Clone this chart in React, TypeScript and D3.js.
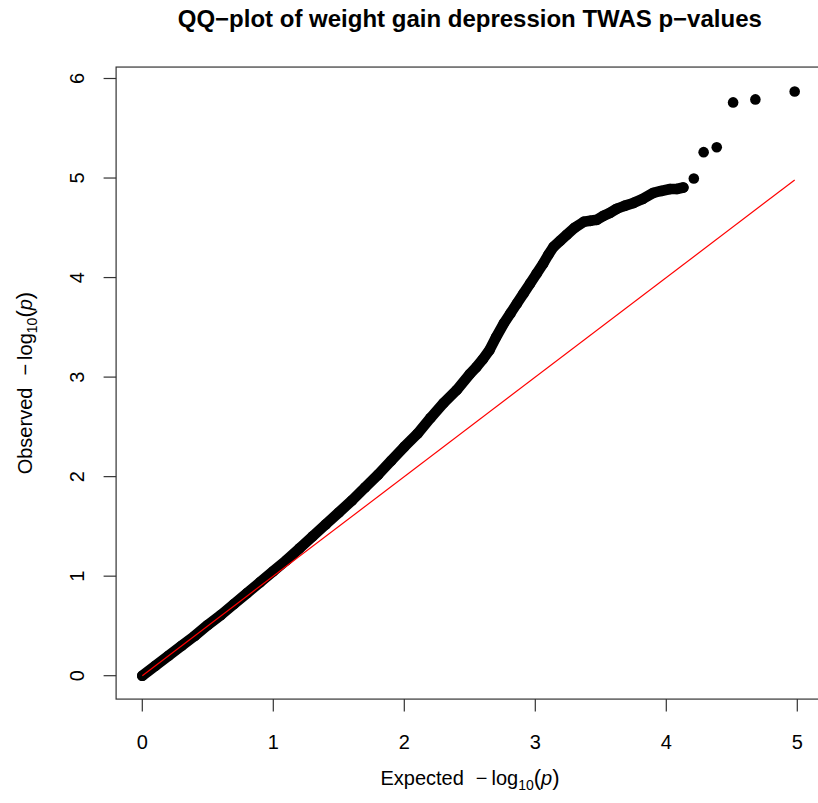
import React from "react";
import * as d3 from "d3";

// Dense part of the QQ curve (expected, observed -log10 p)
const bandExpected = [0.0, 0.1, 0.2, 0.3, 0.4, 0.5, 0.6, 0.7, 0.8, 0.9, 1.0, 1.1, 1.2, 1.3, 1.4, 1.5, 1.6, 1.7, 1.8, 1.9, 2.0, 2.1, 2.2, 2.3, 2.4, 2.5, 2.55, 2.6, 2.65, 2.7, 2.76, 2.81, 2.86, 2.91, 2.96, 3.01, 3.06, 3.1, 3.14, 3.19, 3.24, 3.3, 3.37, 3.42, 3.47, 3.52, 3.57, 3.62, 3.68, 3.75, 3.82, 3.9, 3.96, 4.03, 4.08, 4.13];
const bandObserved = [0.0, 0.1, 0.2, 0.3, 0.4, 0.51, 0.61, 0.72, 0.83, 0.94, 1.05, 1.16, 1.28, 1.4, 1.52, 1.64, 1.76, 1.89, 2.02, 2.16, 2.3, 2.43, 2.59, 2.74, 2.87, 3.03, 3.1, 3.18, 3.27, 3.4, 3.54, 3.64, 3.74, 3.84, 3.94, 4.04, 4.14, 4.23, 4.31, 4.37, 4.43, 4.5, 4.56, 4.57, 4.58, 4.62, 4.65, 4.69, 4.72, 4.75, 4.79, 4.85, 4.87, 4.89, 4.89, 4.905];

// Sparse tail: individually visible points
const tailExpected = [4.21, 4.285, 4.385, 4.51, 4.68, 4.98];
const tailObserved = [4.995, 5.26, 5.31, 5.76, 5.79, 5.87];

const xTicks = [0, 1, 2, 3, 4, 5];
const yTicks = [0, 1, 2, 3, 4, 5, 6];
const refLine = [0, 4.98];

const title = "QQ\u2212plot of weight gain depression TWAS p\u2212values";
const xLabelWord = "Expected";
const yLabelWord = "Observed";

function LogLabel({ word }: { word: string }) {
  return (
    <>
      <tspan>{word}</tspan>
      <tspan dx={12}>{"\u2212"}</tspan>
      <tspan dx={4}>log</tspan>
      <tspan fontSize={14} dy={5}>10</tspan>
      <tspan dy={-5} fontSize={22}>(</tspan>
      <tspan fontStyle="italic">p</tspan>
      <tspan fontSize={22}>)</tspan>
    </>
  );
}

export default function App() {
  const W = 818;
  const H = 803;
  const x = d3.scaleLinear().domain([0, 5]).range([142.3, 797.3]);
  const y = d3.scaleLinear().domain([0, 6]).range([675.7, 78.5]);
  const boxL = x(-0.2);
  const boxR = x(5.2);
  const boxT = y(6.115);
  const boxB = y(-0.235);
  const r = 5.3;
  const font = "'Liberation Sans', Arial, Helvetica, sans-serif";

  const band = bandExpected.map((e, i) => [e, bandObserved[i]] as [number, number]);
  const line = d3
    .line<[number, number]>()
    .x((d) => x(d[0]))
    .y((d) => y(d[1]))
    .curve(d3.curveLinear);

  const plotCx = (boxL + boxR) / 2;
  const plotCy = (boxT + boxB) / 2;

  return (
    <svg
      width={W}
      height={H}
      style={{ position: "absolute", left: 0, top: 0, background: "#fff" }}
      fontFamily={font}
    >
      <rect x={0} y={0} width={W} height={H} fill="#fff" />
      {/* title */}
      <text x={plotCx} y={27} textAnchor="middle" fontSize={24} fontWeight="bold" fill="#000">
        {title}
      </text>

      {/* data band */}
      <path
        d={line(band) || ""}
        fill="none"
        stroke="#000"
        strokeWidth={2 * r}
        strokeLinecap="round"
        strokeLinejoin="round"
      />
      {band.map((d, i) => (
        <circle key={"b" + i} cx={x(d[0])} cy={y(d[1])} r={r} fill="#000" />
      ))}
      {tailExpected.map((e, i) => (
        <circle key={"t" + i} cx={x(e)} cy={y(tailObserved[i])} r={r} fill="#000" />
      ))}

      {/* reference line */}
      <line
        x1={x(refLine[0])}
        y1={y(refLine[0])}
        x2={x(refLine[1])}
        y2={y(refLine[1])}
        stroke="#ff0000"
        strokeWidth={1.2}
      />

      {/* box */}
      <rect x={boxL} y={boxT} width={boxR - boxL} height={boxB - boxT} fill="none" stroke="#333" strokeWidth={1.2} />

      {/* x axis */}
      {xTicks.map((t) => (
        <g key={"x" + t}>
          <line x1={x(t)} x2={x(t)} y1={boxB} y2={boxB + 12.5} stroke="#333" strokeWidth={1.2} />
          <text x={x(t)} y={749} textAnchor="middle" fontSize={20} fill="#000">
            {t}
          </text>
        </g>
      ))}
      {/* y axis */}
      {yTicks.map((t) => (
        <g key={"y" + t}>
          <line x1={boxL} x2={boxL - 12.5} y1={y(t)} y2={y(t)} stroke="#333" strokeWidth={1.2} />
          <text
            transform={`translate(84,${y(t)}) rotate(-90)`}
            textAnchor="middle"
            fontSize={20}
            fill="#000"
          >
            {t}
          </text>
        </g>
      ))}

      {/* axis labels */}
      <text x={470} y={785} textAnchor="middle" fontSize={20} fill="#000">
        <LogLabel word={xLabelWord} />
      </text>
      <text
        transform={`translate(32,${plotCy}) rotate(-90)`}
        textAnchor="middle"
        fontSize={20}
        fill="#000"
      >
        <LogLabel word={yLabelWord} />
      </text>
    </svg>
  );
}
